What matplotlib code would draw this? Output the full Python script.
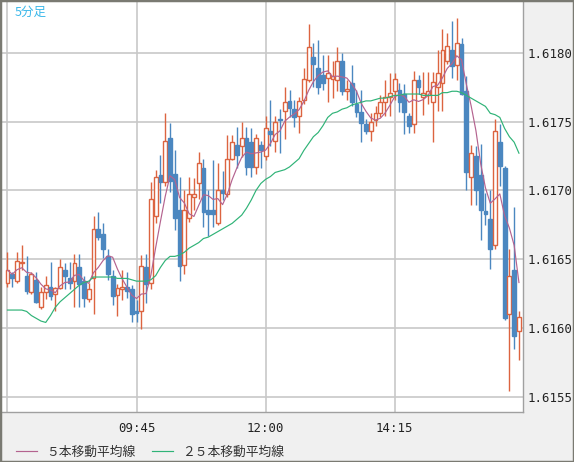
"""
5-minute candlestick chart with 5 / 25 bar moving averages
"""

import matplotlib
matplotlib.use('Agg')
import matplotlib.pyplot as plt
import pandas as pd
from matplotlib.patches import Rectangle

# OHLC of the 108 bars (07:30 .. 16:25, 5 minutes each)
opens = [1.61633, 1.61639, 1.61634, 1.61647, 1.61638, 1.61626, 1.61635, 1.61615, 1.61626, 1.61630,
         1.61625, 1.61629, 1.61642, 1.61636, 1.61634, 1.61644, 1.61634, 1.61621, 1.61636, 1.61672,
         1.61668, 1.61652, 1.61638, 1.61624, 1.61628, 1.61630, 1.61628, 1.61612, 1.61612, 1.61644,
         1.61633, 1.61681, 1.61711, 1.61706, 1.61738, 1.61712, 1.61686, 1.61646, 1.61680, 1.61695,
         1.61705, 1.61716, 1.61686, 1.61686, 1.61676, 1.61700, 1.61697, 1.61723, 1.61733, 1.61732,
         1.61738, 1.61735, 1.61717, 1.61733, 1.61725, 1.61743, 1.61736, 1.61752, 1.61758, 1.61765,
         1.61759, 1.61754, 1.61766, 1.61780, 1.61797, 1.61789, 1.61784, 1.61782, 1.61781, 1.61780,
         1.61794, 1.61772, 1.61778, 1.61763, 1.61757, 1.61748, 1.61743, 1.61751, 1.61756, 1.61764,
         1.61768, 1.61772, 1.61773, 1.61770, 1.61754, 1.61748, 1.61780, 1.61768, 1.61769, 1.61764,
         1.61775, 1.61778, 1.61794, 1.61802, 1.61791, 1.61806, 1.61772, 1.61710, 1.61725, 1.61711,
         1.61685, 1.61679, 1.61660, 1.61735, 1.61716, 1.61610, 1.61642, 1.61598]
closes = [1.61642, 1.61636, 1.61649, 1.61648, 1.61627, 1.61639, 1.61619, 1.61626, 1.61631, 1.61623,
          1.61629, 1.61644, 1.61638, 1.61633, 1.61647, 1.61632, 1.61622, 1.61628, 1.61672, 1.61666,
          1.61657, 1.61639, 1.61623, 1.61629, 1.61630, 1.61627, 1.61610, 1.61611, 1.61645, 1.61632,
          1.61694, 1.61710, 1.61706, 1.61736, 1.61707, 1.61680, 1.61645, 1.61686, 1.61697, 1.61697,
          1.61720, 1.61684, 1.61683, 1.61683, 1.61700, 1.61698, 1.61723, 1.61735, 1.61726, 1.61738,
          1.61717, 1.61717, 1.61738, 1.61729, 1.61745, 1.61741, 1.61750, 1.61751, 1.61764, 1.61760,
          1.61753, 1.61765, 1.61781, 1.61804, 1.61792, 1.61775, 1.61778, 1.61785, 1.61783, 1.61794,
          1.61772, 1.61774, 1.61764, 1.61757, 1.61749, 1.61743, 1.61750, 1.61756, 1.61764, 1.61768,
          1.61771, 1.61781, 1.61764, 1.61757, 1.61747, 1.61780, 1.61775, 1.61771, 1.61772, 1.61779,
          1.61785, 1.61802, 1.61805, 1.61790, 1.61807, 1.61770, 1.61713, 1.61727, 1.61700, 1.61686,
          1.61683, 1.61657, 1.61743, 1.61718, 1.61607, 1.61638, 1.61594, 1.61608]
highs = [1.61655, 1.61641, 1.61655, 1.61660, 1.61652, 1.61641, 1.61641, 1.61630, 1.61638, 1.61648,
         1.61630, 1.61650, 1.61647, 1.61648, 1.61654, 1.61654, 1.61638, 1.61633, 1.61681, 1.61684,
         1.61676, 1.61657, 1.61642, 1.61632, 1.61642, 1.61641, 1.61631, 1.61620, 1.61653, 1.61654,
         1.61706, 1.61715, 1.61726, 1.61756, 1.61749, 1.61729, 1.61710, 1.61700, 1.61710, 1.61709,
         1.61728, 1.61723, 1.61700, 1.61722, 1.61720, 1.61714, 1.61740, 1.61740, 1.61746, 1.61750,
         1.61746, 1.61745, 1.61741, 1.61736, 1.61754, 1.61766, 1.61754, 1.61759, 1.61775, 1.61773,
         1.61766, 1.61768, 1.61789, 1.61821, 1.61807, 1.61809, 1.61798, 1.61798, 1.61794, 1.61804,
         1.61800, 1.61780, 1.61791, 1.61773, 1.61773, 1.61752, 1.61756, 1.61761, 1.61769, 1.61780,
         1.61785, 1.61785, 1.61778, 1.61777, 1.61756, 1.61787, 1.61784, 1.61786, 1.61786, 1.61786,
         1.61802, 1.61817, 1.61814, 1.61823, 1.61825, 1.61811, 1.61783, 1.61733, 1.61732, 1.61734,
         1.61698, 1.61700, 1.61752, 1.61748, 1.61718, 1.61657, 1.61688, 1.61612]
lows = [1.61630, 1.61630, 1.61633, 1.61642, 1.61625, 1.61625, 1.61618, 1.61614, 1.61621, 1.61620,
        1.61612, 1.61628, 1.61628, 1.61628, 1.61615, 1.61615, 1.61615, 1.61619, 1.61610, 1.61664,
        1.61651, 1.61635, 1.61617, 1.61609, 1.61620, 1.61622, 1.61604, 1.61604, 1.61599, 1.61618,
        1.61628, 1.61676, 1.61691, 1.61703, 1.61699, 1.61671, 1.61634, 1.61639, 1.61677, 1.61686,
        1.61694, 1.61673, 1.61667, 1.61673, 1.61675, 1.61693, 1.61695, 1.61722, 1.61716, 1.61724,
        1.61711, 1.61710, 1.61712, 1.61716, 1.61722, 1.61732, 1.61728, 1.61727, 1.61737, 1.61753,
        1.61746, 1.61742, 1.61763, 1.61779, 1.61775, 1.61770, 1.61773, 1.61764, 1.61767, 1.61772,
        1.61769, 1.61766, 1.61761, 1.61753, 1.61735, 1.61741, 1.61736, 1.61747, 1.61753, 1.61754,
        1.61754, 1.61766, 1.61757, 1.61741, 1.61742, 1.61742, 1.61770, 1.61755, 1.61763, 1.61735,
        1.61758, 1.61758, 1.61792, 1.61782, 1.61780, 1.61769, 1.61700, 1.61689, 1.61689, 1.61664,
        1.61675, 1.61643, 1.61657, 1.61703, 1.61606, 1.61554, 1.61585, 1.61577]

# 25 bar average as drawn on the chart (it carries bars from before 07:30)
ma25 = [1.61613, 1.61613, 1.61613, 1.61613, 1.61612, 1.61609, 1.61607, 1.61605, 1.61604, 1.61609,
        1.61615, 1.61619, 1.61622, 1.61625, 1.61628, 1.61631, 1.61633, 1.61634, 1.61637, 1.61637,
        1.61637, 1.61637, 1.61637, 1.61636, 1.61636, 1.61636, 1.61635, 1.61634, 1.61634, 1.61634,
        1.61635, 1.61638, 1.61644, 1.61649, 1.61652, 1.61652, 1.61653, 1.61655, 1.61658, 1.61660,
        1.61662, 1.61665, 1.61666, 1.61668, 1.61670, 1.61672, 1.61674, 1.61676, 1.61679, 1.61682,
        1.61687, 1.61693, 1.61700, 1.61705, 1.61708, 1.61710, 1.61713, 1.61714, 1.61715, 1.61717,
        1.61720, 1.61723, 1.61729, 1.61734, 1.61739, 1.61742, 1.61747, 1.61753, 1.61756, 1.61757,
        1.61759, 1.61760, 1.61762, 1.61763, 1.61764, 1.61765, 1.61765, 1.61766, 1.61767, 1.61767,
        1.61768, 1.61769, 1.61769, 1.61770, 1.61770, 1.61770, 1.61770, 1.61769, 1.61769, 1.61769,
        1.61769, 1.61771, 1.61771, 1.61772, 1.61772, 1.61771, 1.61769, 1.61767, 1.61765, 1.61763,
        1.61761, 1.61756, 1.61755, 1.61753, 1.61745, 1.61739, 1.61735, 1.61727]

x_grid = [0, 27, 54, 81]
x_labels = ['', '09:45', '12:00', '14:15']
y_ticks = [1.6155, 1.6160, 1.6165, 1.6170, 1.6175, 1.6180]

UP = '#dc6440'
DOWN = '#4b87c0'
MA5_COLOR = '#b4638f'
MA25_COLOR = '#2fb377'

df = pd.DataFrame({'open': opens, 'high': highs, 'low': lows, 'close': closes, 'ma25': ma25})
df['ma5'] = df['close'].rolling(5, min_periods=1).mean()
xs = list(range(len(df)))

fig = plt.figure(figsize=(5.74, 4.62), dpi=100, facecolor='#f0f0f0')
ax = fig.add_axes([2 / 574, 50 / 462, 521 / 574, 411 / 462])
ax.set_facecolor('white')

up = df['close'] >= df['open']
colors = [UP if u else DOWN for u in up]

# wicks, then bodies on top
ax.vlines(xs, df['low'], df['high'], colors=colors, linewidth=1, zorder=2)
bottoms = df[['open', 'close']].min(axis=1)
heights = (df['close'] - df['open']).abs().clip(lower=0.000012)
ax.bar(xs, heights, bottom=bottoms, width=0.8,
       color=['white' if u else DOWN for u in up],
       edgecolor=colors, linewidth=1, zorder=3)

ax.plot(xs, df['ma5'], color=MA5_COLOR, linewidth=0.85, zorder=4, label='５本移動平均線')
ax.plot(xs, df['ma25'], color=MA25_COLOR, linewidth=0.85, zorder=4, label='２５本移動平均線')

ax.set_xlim(-1.15, 107.85)
ax.set_ylim(1.615389, 1.618376)

ax.set_xticks(x_grid)
ax.set_xticklabels(x_labels)
ax.set_yticks(y_ticks)
ax.set_yticklabels(['%.4f' % v for v in y_ticks])
ax.yaxis.tick_right()
ax.tick_params(length=0, labelsize=8.9, colors='#222222')
ax.tick_params(axis='x', pad=7)
ax.tick_params(axis='y', pad=3)
for lab in ax.get_xticklabels() + ax.get_yticklabels():
    lab.set_family('DejaVu Sans Mono')
ax.grid(True, color='#c8c8c8', linewidth=1.2, zorder=0)
ax.set_axisbelow(True)
for name, spine in ax.spines.items():
    spine.set_color('#a0a0a0')
    spine.set_linewidth(1)
ax.spines['left'].set_visible(False)
ax.spines['top'].set_visible(False)

ax.text(0.025, 0.988, '5分足', transform=ax.transAxes, ha='left', va='top',
        color='#3cb8ea', fontsize=9, family=['Noto Sans CJK JP', 'DejaVu Sans'])

fig.legend(loc='center left', bbox_to_anchor=(10 / 574, 10 / 462), ncol=2,
           frameon=False, borderpad=0, handlelength=1.65, handletextpad=0.7,
           columnspacing=1.3,
           prop={'family': ['Noto Sans CJK JP', 'DejaVu Sans'], 'size': 9.2},
           labelcolor='#333333')

# outer frame of the widget
fig.add_artist(Rectangle((0, 0), 1, 1, transform=fig.transFigure, fill=False,
                         edgecolor='#7a7a72', linewidth=2.5))

fig.savefig('out.png', dpi=100, facecolor=fig.get_facecolor())
